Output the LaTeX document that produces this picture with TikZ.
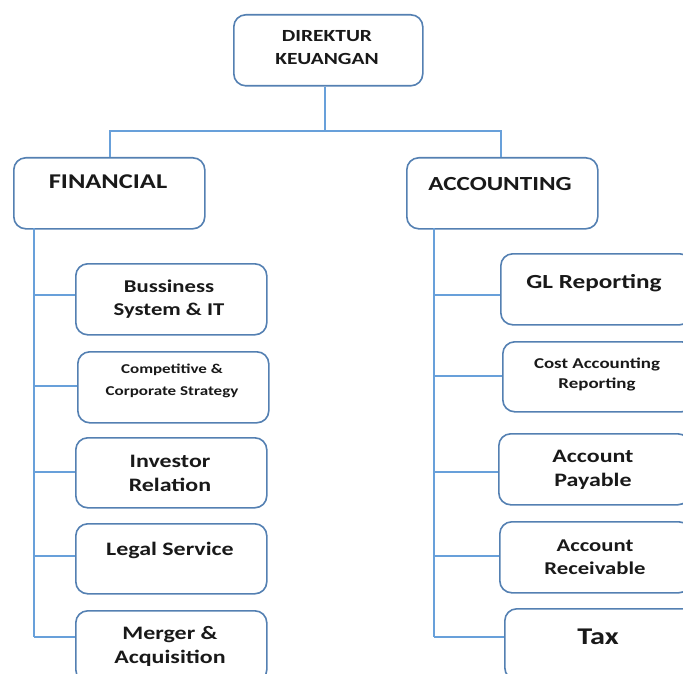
\documentclass[tikz,border=0pt]{standalone}
\usepackage{fontspec}
\setmainfont{Carlito}[FakeStretch=1.26]
\definecolor{boxc}{RGB}{84,128,178}
\definecolor{linec}{RGB}{104,160,218}
\definecolor{txt}{RGB}{25,25,25}
\tikzset{
  box/.style={draw=boxc, line width=1.6pt, rounded corners=12pt, fill=white,
    anchor=north west, minimum width=191pt, minimum height=71pt, inner sep=0pt},
  conn/.style={draw=linec, line width=1.6pt},
  lbl/.style={text=txt, align=center, inner sep=0pt},
  fs/.style 2 args={font=\bfseries\fontsize{#1}{#2}\selectfont}
}
\begin{document}
\begin{tikzpicture}[x=1pt,y=-1pt]
\useasboundingbox (0,0) rectangle (683,674);
\clip (0,0) rectangle (683,674);
\coordinate (jT) at (325,131);
\coordinate (jL) at (110,131);
\coordinate (jR) at (501,131);
\coordinate (sLt) at (34,228);
\coordinate (sLb) at (34,637);
\coordinate (sRt) at (434,228);
\coordinate (sRb) at (434,637);
% boxes
\node[box, minimum width=189pt] (dir) at (233,14) {};
\node[box] (fin) at (13,157) {};
\node[box] (acc) at (406,157) {};
\node[box] (b1) at (75,263) {};
\node[box] (b2) at (77,351) {};
\node[box, minimum height=70pt] (b3) at (75,437) {};
\node[box, minimum height=70pt] (b4) at (75,523) {};
\node[box] (b5) at (75,610) {};
\node[box] (a1) at (500,253) {};
\node[box, minimum height=70pt] (a2) at (502,341) {};
\node[box] (a3) at (498,433) {};
\node[box] (a4) at (499,521) {};
\node[box] (a5) at (504,608) {};
% lines
\draw[conn] (dir.south -| jT) -- (jT);
\draw[conn] (fin.north -| jL) -- (jL) -- (jR) -- (acc.north -| jR);
\draw[conn] (sLt) -- (sLb);
\draw[conn] (sRt) -- (sRb);
\draw[conn] (34,295) -- (b1.west |- 0,295);
\draw[conn] (34,386) -- (b2.west |- 0,386);
\draw[conn] (34,472) -- (b3.west |- 0,472);
\draw[conn] (34,556) -- (b4.west |- 0,556);
\draw[conn] (sLb) -- (b5.west |- sLb);
\draw[conn] (434,295) -- (a1.west |- 0,295);
\draw[conn] (434,376) -- (a2.west |- 0,376);
\draw[conn] (434,472) -- (a3.west |- 0,472);
\draw[conn] (434,556) -- (a4.west |- 0,556);
\draw[conn] (sRb) -- (a5.west |- sRb);
% labels
\node[lbl, fs={17}{23}] (tdir) at (327,48) {DIREKTUR\\KEUANGAN};
\node[lbl, fs={21}{25}] (tfin) at (108,182) {FINANCIAL};
\node[lbl, fs={20}{24}] (tacc) at (500,184) {ACCOUNTING};
\node[lbl, fs={18}{23}] (tb1) at (169,299) {Bussiness\\System \& IT};
\node[lbl, fs={13.5}{22}] (tb2) at (172,381) {Competitive \&\\Corporate Strategy};
\node[lbl, fs={19}{24}] (tb3) at (170,473) {Investor\\Relation};
\node[lbl, fs={19}{24}] (tb4) at (170,550) {Legal Service};
\node[lbl, fs={19}{24}] (tb5) at (170,646) {Merger \&\\Acquisition};
\node[lbl, fs={20}{24}] (ta1) at (594,283) {GL Reporting};
\node[lbl, fs={15}{20}] (ta2) at (597,374) {Cost Accounting\\Reporting};
\node[lbl, fs={19}{24}] (ta3) at (593,470) {Account\\Payable};
\node[lbl, fs={18}{23}] (ta4) at (595,557) {Account\\Receivable};
\node[lbl, fs={24}{28}] (ta5) at (598,637) {Tax};
\end{tikzpicture}
\end{document}
